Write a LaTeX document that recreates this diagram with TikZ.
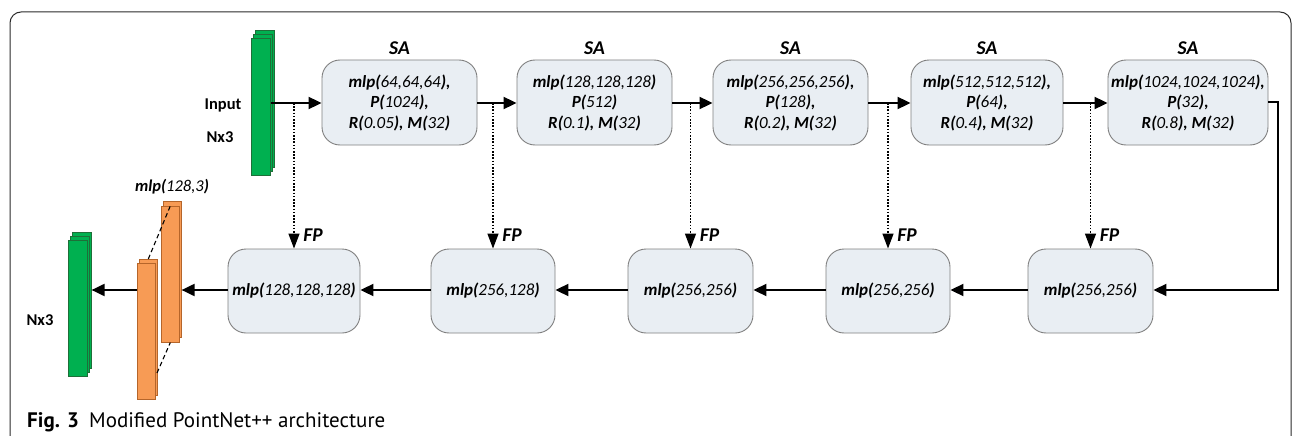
\documentclass[tikz,border=0pt]{standalone}
\usepackage{fontspec}
\setmainfont{Carlito}
\newfontfamily\capfont{PT Sans}
\usetikzlibrary{arrows.meta}
\definecolor{boxfill}{HTML}{E9EEF3}
\definecolor{boxline}{HTML}{808080}
\definecolor{grn}{HTML}{00B050}
\definecolor{grnline}{HTML}{1E6F38}
\definecolor{org}{HTML}{F79B55}
\definecolor{orgline}{HTML}{B5652A}
\definecolor{framec}{HTML}{2A2A2A}
\begin{document}
\begin{tikzpicture}[x=1pt,y=-1pt,
  blk/.style={draw=boxline, line width=0.9pt, fill=boxfill, rounded corners=18pt,
    inner sep=0pt, align=center, font=\fontsize{17}{20.5}\selectfont\itshape},
  sabox/.style={blk, minimum height=85pt, minimum width=155pt},
  fpbox/.style={blk, minimum height=84pt, minimum width=125pt},
  glay/.style={draw=grnline, fill=grn, line width=0.6pt, anchor=north west, inner sep=0pt,
    minimum width=19pt, minimum height=137pt},
  olay/.style={draw=orgline, fill=org, line width=0.6pt, anchor=north west, inner sep=0pt,
    minimum width=18pt, minimum height=136pt},
  flow/.style={line width=2pt, -{Triangle[length=13pt,width=12pt]}},
  skip/.style={line width=1.4pt, dash pattern=on 1.6pt off 1.6pt, -{Triangle[length=15pt,width=11pt]}},
  lbl/.style={font=\fontsize{19.5}{22}\selectfont\bfseries\itshape, inner sep=0pt},
  side/.style={font=\fontsize{16.5}{20}\selectfont\bfseries, inner sep=0pt},
  link/.style={line width=1.1pt, dash pattern=on 4.5pt off 3pt}
]
\useasboundingbox (0,0) rectangle (1293,436);
\begin{scope}
  \clip (0,0) rectangle (1293,436);
  \draw[framec, line width=1pt, rounded corners=11pt] (10,480) -- (10,12) -- (1291,12) -- (1291,480);
\end{scope}

% input stack
\node[glay] (inB) at (255,30) {};
\node[glay] (inM) at (253,34) {};
\node[glay] (inF) at (251,38) {};
\node[side] (lin) at (223,105) {Input};
\node[side] (lnx) at (220,137) {Nx3};

% SA boxes
\node[sabox] (sa1) at (399.5,102.5) {\textbf{mlp(}64,64,64\textbf{),}\\\textbf{P(}1024\textbf{),}\\\textbf{R(}0.05\textbf{), M(}32\textbf{)}};
\node[sabox] (sa2) at (594.5,102.5) {\textbf{mlp(}128,128,128\textbf{)}\\\textbf{P(}512\textbf{)}\\\textbf{R(}0.1\textbf{), M(}32\textbf{)}};
\node[sabox] (sa3) at (790.5,102.5) {\textbf{mlp(}256,256,256\textbf{),}\\\textbf{P(}128\textbf{),}\\\textbf{R(}0.2\textbf{), M(}32\textbf{)}};
\node[sabox, minimum width=152pt] (sa4) at (987,102.5) {\textbf{mlp(}512,512,512\textbf{),}\\\textbf{P(}64\textbf{),}\\\textbf{R(}0.4\textbf{), M(}32\textbf{)}};
\node[sabox, minimum width=160pt] (sa5) at (1188,102.5) {\textbf{mlp(}1024,1024,1024\textbf{),}\\\textbf{P(}32\textbf{),}\\\textbf{R(}0.8\textbf{), M(}32\textbf{)}};
\foreach \s in {sa1,sa2,sa3,sa4,sa5}{
  \node[lbl] at (\s.north |- 0,48) {SA};
}

% FP boxes
\node[fpbox, minimum width=132pt] (fp1) at (294,291) {\textbf{mlp(}128,128,128\textbf{)}};
\node[fpbox, minimum width=124pt] (fp2) at (493,291) {\textbf{mlp(}256,128\textbf{)}};
\node[fpbox] (fp3) at (690.5,291) {\textbf{mlp(}256,256\textbf{)}};
\node[fpbox, minimum width=124pt] (fp4) at (888,291) {\textbf{mlp(}256,256\textbf{)}};
\node[fpbox] (fp5) at (1090.5,291) {\textbf{mlp(}256,256\textbf{)}};
\foreach \f in {fp1,fp2,fp3,fp4,fp5}{
  \node[lbl] at ([xshift=19pt]\f.north |- 0,235) {FP};
}

% output part
\node[olay] (oRB) at (163,201) {};
\node[olay] (oRF) at (161,206) {};
\node[olay] (oLB) at (139,259) {};
\node[olay] (oLF) at (137,263) {};
\coordinate (dq) at (157,373);
\draw[link] (oLB.north) -- (oRF.north);
\draw[link] (dq) -- (oRF.south);
\node[font=\fontsize{16.5}{20}\selectfont\itshape, inner sep=0pt] (mlpo) at (172,187) {\textbf{mlp(}128,3\textbf{)}};
\node[glay, minimum height=136pt] (gOB) at (72,232) {};
\node[glay, minimum height=136pt] (gOM) at (70,236) {};
\node[glay, minimum height=136pt] (gOF) at (68,240) {};
\node[side] (onx) at (40,320) {Nx3};

% main flow
\draw[flow] (inF.east |- 0,103) -- (sa1.west |- 0,103);
\draw[flow] (sa1.east |- 0,103) -- (sa2.west |- 0,103);
\draw[flow] (sa2.east |- 0,103) -- (sa3.west |- 0,103);
\draw[flow] (sa3.east |- 0,103) -- (sa4.west |- 0,103);
\draw[flow] (sa4.east |- 0,103) -- (sa5.west |- 0,103);
\draw[line width=2pt, -{Triangle[length=13pt,width=12pt]}] (sa5.east |- 0,102) -- (1278,102) -- (1278,290) -- (fp5.east |- 0,290);
\draw[flow] (fp5.west |- 0,290) -- (fp4.east |- 0,290);
\draw[flow] (fp4.west |- 0,290) -- (fp3.east |- 0,290);
\draw[flow] (fp3.west |- 0,290) -- (fp2.east |- 0,290);
\draw[flow] (fp2.west |- 0,290) -- (fp1.east |- 0,290);
\draw[flow] (fp1.west |- 0,290) -- (oRB.east |- 0,290);
\draw[flow] (oLF.west |- 0,290) -- (gOB.east |- 0,290);

% skip links
\draw[skip] (fp1.north |- 0,103) -- (fp1.north);
\draw[skip] (fp2.north |- 0,103) -- (fp2.north);
\draw[skip] (fp3.north |- 0,103) -- (fp3.north);
\draw[skip] (fp4.north |- 0,103) -- (fp4.north);
\draw[skip] (fp5.north |- 0,103) -- (fp5.north);

% caption
\node[anchor=base west, inner sep=0pt, font=\capfont\fontsize{21}{24}\selectfont\bfseries] (capa) at (27,427) {Fig. 3};
\node[anchor=base west, inner sep=0pt, font=\capfont\fontsize{21}{24}\selectfont] (capb) at (89,427) {Modified PointNet++ architecture};
\end{tikzpicture}
\end{document}
